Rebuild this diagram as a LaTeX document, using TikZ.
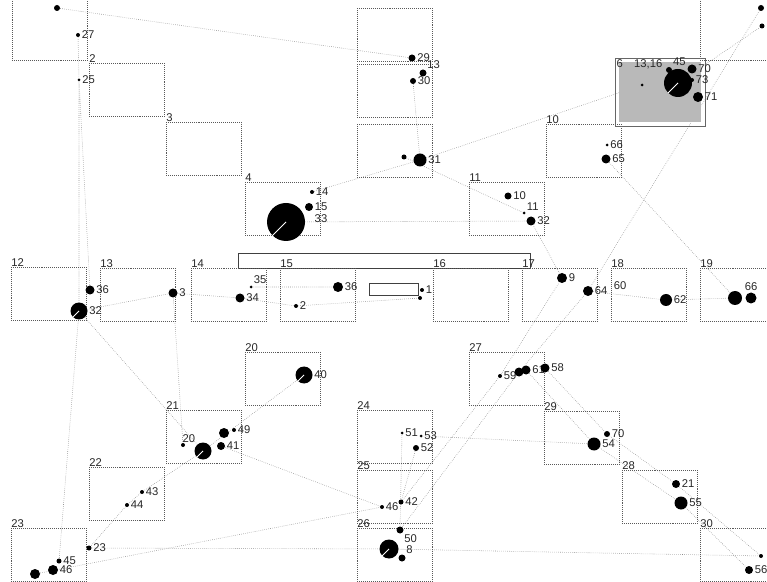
\documentclass[tikz,border=0pt]{standalone}
\usepackage{fontspec}
\setmainfont{Liberation Sans}
\usetikzlibrary{backgrounds}
\begin{document}
\begin{tikzpicture}[
        x=0.025cm, y=-0.025cm,
        box/.style={draw=black!65, densely dotted, anchor=north west, inner sep=0pt,
            minimum width=1.875cm, minimum height=1.325cm},
        num/.style={font=\fontsize{8}{8}\selectfont, text=black!85, inner sep=1pt},
        boxnum/.style={label={[num, anchor=south west, inner sep=0pt]north west:#1}},
        spot/.style={circle, fill=black, inner sep=0pt, minimum size=#1*0.025cm},
        spot/.default=4,
        link/.style={draw=black!45, densely dotted, thin},
        solidbox/.style={draw=black!75, semithick, anchor=north west, inner sep=0pt}
    ]
    \useasboundingbox (0,0) rectangle (767,582);

    % Horní boxy
    \node[box, minimum height=1.55cm] (bA) at (12,-2) {};
    \node[box, boxnum=2] (bB) at (89,63) {};
    \node[box, boxnum=3] (bC) at (166,122) {};
    \node[box, boxnum=4] (bD) at (245,182) {};
    \node[box] (bE) at (357,8) {};
    \node[box] (bF) at (357,64) {};
    \node[box] (bG) at (357,124) {};
    \node[box, boxnum=11] (bH) at (469,182) {};
    \node[box, boxnum=10] (bI) at (546,124) {};
    \node[box, minimum height=1.55cm] (bK) at (700,-2) {};
    % Šedý box
    \node[box, solid, draw=black!60, minimum width=2.25cm, minimum height=1.7cm] (b6) at (615,58) {};
    \node[fill=gray!55, inner sep=0pt, minimum width=2.05cm, minimum height=1.5cm] (b6in) at (b6.center) {};
    \node[num, anchor=north west] (b6txt) at (b6.north west) {6\quad 13,16};

    % Prostřední řada
    \node[solidbox, minimum width=7.3cm, minimum height=0.375cm] (bar) at (238,253) {};
    \node[box, boxnum=12] (b12) at (11,267) {};
    \node[box, boxnum=13] (b13) at (100,268) {};
    \node[box, boxnum=14] (b14) at (191,268) {};
    \node[box, boxnum=15] (b15) at (280,268) {};
    \node[solidbox, minimum width=1.225cm, minimum height=0.3cm] (slot) at (369,283) {};
    \node[box, boxnum=16] (b16) at (433,268) {};
    \node[box, boxnum=17] (b17) at (522,268) {};
    \node[box, boxnum=18] (b18) at (611,268) {};
    \node[box, boxnum=19] (b19) at (700,268) {};

    % Dolní boxy
    \node[box, boxnum=20] (b20) at (245,352) {};
    \node[box, boxnum=27] (b27) at (469,352) {};
    \node[box, boxnum=21] (b21) at (166,410) {};
    \node[box, boxnum=24] (b24) at (357,410) {};
    \node[box, boxnum=29] (b29) at (544,411) {};
    \node[box, boxnum=22] (b22) at (89,467) {};
    \node[box, boxnum=25] (b25) at (357,470) {};
    \node[box, boxnum=28] (b28) at (622,470) {};
    \node[box, boxnum=23] (b23) at (11,528) {};
    \node[box, boxnum=26] (b26) at (357,528) {};
    \node[box, boxnum=30] (b30) at (700,528) {};

    % Body nahoře
    \node[spot=6] (dA) at (57,8) {};
    \node[spot=4, label={[num]right:27}] (d27) at (78,35) {};
    \node[spot=3, label={[num]right:25}] (d25) at (79,80) {};
    \node[spot=7, label={[num]right:29}] (d29) at (412,58) {};
    \node[spot=7, label={[num]above right:13}] (d13) at (423,73) {};
    \node[spot=6, label={[num]right:30}] (d30) at (413,81) {};
    \node[spot=5] (d31a) at (404,157) {};
    \node[spot=13, label={[num]right:31}] (d31) at (420,160) {};
    \node[spot=3, label={[num]right:66}] (d66a) at (607,145) {};
    \node[spot=9, label={[num]right:65}] (d65) at (606,159) {};
    \node[spot=3] (d6a) at (642,85) {};
    \node[spot=28] (dbig) at (678,83) {};
    \node[spot=6, label={[num]above right:45}] (d45a) at (669,70) {};
    \node[spot=9, label={[num]right:70}] (d70) at (692,69) {};
    \node[spot=4, label={[num]right:73}] (d73) at (692,80) {};
    \node[spot=10, label={[num]right:71}] (d71) at (698,97) {};
    \node[spot=6] (dK1) at (761,8) {};
    \node[spot=5] (dK2) at (762,26) {};
    \node[spot=38] (d33) at (286,222) {};
    \node[spot=4, label={[num]right:14}] (d14) at (312,192) {};
    \node[spot=8, label={[num]right:15}] (d15) at (309,207) {};
    \node[num] (n33) at (321,219) {33};
    \node[spot=7, label={[num]right:10}] (d10) at (508,196) {};
    \node[spot=3, label={[num]above right:11}] (d11) at (524,213) {};
    \node[spot=9, label={[num]right:32}] (d32) at (531,221) {};

    % Body uprostřed
    \node[spot=9, label={[num]right:36}] (d36a) at (90,290) {};
    \node[spot=17, label={[num]right:32}] (d32a) at (79,311) {};
    \node[spot=9, label={[num]right:3}] (d3) at (173,293) {};
    \node[spot=9, label={[num]right:34}] (d34) at (240,298) {};
    \node[spot=3, label={[num]above right:35}] (d35) at (251,287) {};
    \node[spot=10, label={[num]right:36}] (d36) at (338,287) {};
    \node[spot=4, label={[num]right:2}] (d2) at (296,306) {};
    \node[spot=4, label={[num]right:1}] (d1) at (422,290) {};
    \node[spot=4] (d1b) at (420,298) {};
    \node[spot=10, label={[num]right:9}] (d9) at (562,278) {};
    \node[spot=10, label={[num]right:64}] (d64) at (588,291) {};
    \node[num] (n60) at (620,286) {60};
    \node[spot=12, label={[num]right:62}] (d62) at (666,300) {};
    \node[spot=14] (d19a) at (735,298) {};
    \node[spot=11, label={[num]above:66}] (d66) at (751,298) {};

    % Body dole
    \node[spot=17, label={[num]right:40}] (d40) at (304,375) {};
    \node[spot=17, label={[num]above left:20}] (d20) at (203,451) {};
    \node[spot=4] (d21a) at (183,445) {};
    \node[spot=10] (d41a) at (224,433) {};
    \node[spot=4, label={[num]right:49}] (d49) at (234,430) {};
    \node[spot=8, label={[num]right:41}] (d41) at (221,446) {};
    \node[spot=4, label={[num]right:43}] (d43) at (142,492) {};
    \node[spot=4, label={[num]right:44}] (d44) at (127,505) {};
    \node[spot=5, label={[num]right:23}] (d23) at (89,548) {};
    \node[spot=5, label={[num]right:45}] (d45) at (59,561) {};
    \node[spot=10, label={[num]right:46}] (d46a) at (53,570) {};
    \node[spot=10] (d46b) at (35,574) {};
    \node[spot=3, label={[num]right:51}] (d51) at (402,433) {};
    \node[spot=3, label={[num]right:53}] (d53) at (421,436) {};
    \node[spot=6, label={[num]right:52}] (d52) at (416,448) {};
    \node[spot=4, label={[num]right:46}] (d46) at (382,507) {};
    \node[spot=5, label={[num]right:42}] (d42) at (401,502) {};
    \node[spot=7, label={[num]below right:50}] (d26a) at (400,530) {};
    \node[spot=19] (d26) at (389,549) {};
    \node[spot=7, label={[num]above right:8}] (d8) at (402,558) {};
    \node[spot=4, label={[num]right:59}] (d59) at (500,376) {};
    \node[spot=9] (d61a) at (519,372) {};
    \node[spot=9, label={[num]right:61}] (d61) at (526,370) {};
    \node[spot=9, label={[num]right:58}] (d58) at (545,368) {};
    \node[spot=13, label={[num]right:54}] (d54) at (594,444) {};
    \node[spot=6, label={[num]right:70}] (d70b) at (607,434) {};
    \node[spot=8, label={[num]right:21}] (d21) at (676,484) {};
    \node[spot=13, label={[num]right:55}] (d55) at (681,503) {};
    \node[spot=4] (d30a) at (761,556) {};
    \node[spot=8, label={[num]right:56}] (d56) at (749,570) {};

    % Bílé řezy ve velkých bodech
    \foreach \n in {d33, dbig, d40, d20, d26, d32a}
        \draw[white, semithick] (\n.center) -- (\n.south west);

    % Spojnice
    \begin{scope}[on background layer]
        \draw[link] (dA) -- (d29);
        \draw[link] (d27) -- (d25);
        \draw[link] (d25) -- (d32a) (d25) -- (d36a);
        \draw[link] (d32a) -- (d45);
        \draw[link] (d32a) -- (d3) -- (d34);
        \draw[link] (d3) -- (d21a);
        \draw[link] (d32a) -- (d20);
        \draw[link] (d40) -- (d20) -- (d43) -- (d44) -- (d23);
        \draw[link] (d41) -- (d46);
        \draw[link] (d46b) -- (d46);
        \draw[link] (d23) -- (d26) -- (d30a);
        \draw[link] (d26a) -- (d51) (d42) -- (d52);
        \draw[link] (d53) -- (d54);
        \draw[link] (d42) -- (d59) -- (d9);
        \draw[link] (d26a) -- (d61a) -- (d64) -- (dK1);
        \draw[link] (dbig) -- (dK2);
        \draw[link] (d14) -- (d31) -- (d6a);
        \draw[link] (d31a) -- (d11);
        \draw[link] (d33) -- (d32);
        \draw[link] (d30) -- (d31);
        \draw[link] (d35) -- (d36) (d34) -- (d2) -- (d1b);
        \draw[link] (d64) -- (d62) -- (d19a);
        \draw[link] (d61) -- (d54) -- (d55) -- (d56);
        \draw[link] (d58) -- (d70b) -- (d21) -- (d30a);
        \draw[link] (d9) -- (d32);
        \draw[link] (d65) -- (d19a);
    \end{scope}
\end{tikzpicture}
\end{document}
